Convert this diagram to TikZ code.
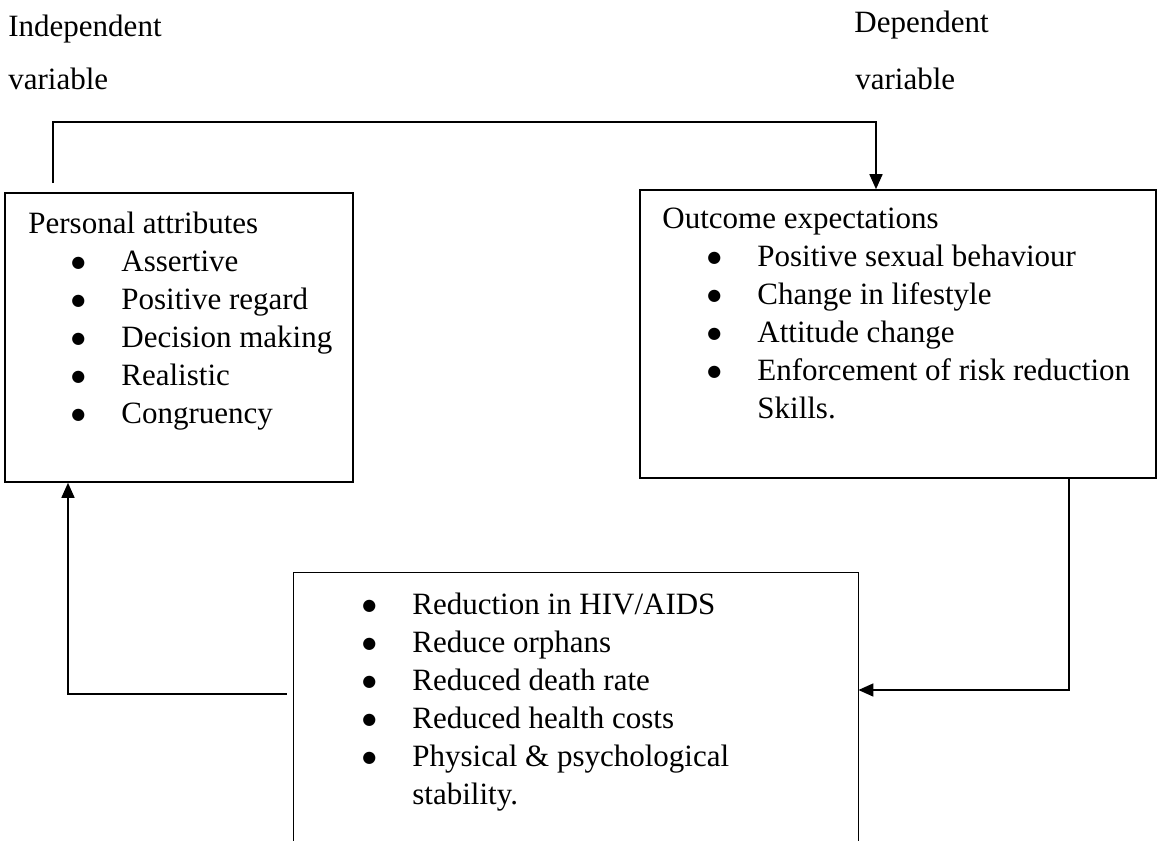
\documentclass[tikz,border=0pt]{standalone}
\usepackage{fontspec}
\setmainfont{Liberation Serif}
\newfontfamily\symfont{DejaVu Sans}
\usetikzlibrary{arrows.meta,calc}
\newcommand{\bitem}{\makebox[0pt]{\raisebox{2pt}{\symfont\fontsize{8pt}{8pt}\selectfont ●}}\hspace*{21.5pt}}
\begin{document}
\begin{tikzpicture}[x=0.5pt,y=-0.5pt,
  box/.style={draw, line width=0.8pt, rectangle, inner sep=0pt},
  conn/.style={line width=0.8pt},
  arr/.style={conn, -{Triangle[length=7.5pt,width=6.5pt]}},
  txt/.style={inner sep=0pt, anchor=base west, font=\fontsize{15.5pt}{19pt}\selectfont},
]
\useasboundingbox (0,0) rectangle (1158,841);

% boxes
\node[box, minimum width=174pt, minimum height=144.5pt] (pa) at (179,337.5) {};
\node[box, minimum width=258pt, minimum height=144pt] (oe) at (898,334) {};
\node[inner sep=0pt, minimum width=282pt, minimum height=134pt] (bt) at (576,707) {};
\draw[conn] (bt.south west) -- (bt.north west) -- (bt.north east) -- (bt.south east);

% headings
\node[txt] (indep) at (8,36) {Independent};
\node[txt] (indepv) at (8,89) {variable};
\node[txt] (dep) at (854,32) {Dependent};
\node[txt] (depv) at (855,89) {variable};

% box texts
\node[txt] (patext) at (28,233) {\begin{tabular}[t]{@{}l@{}}
Personal attributes\\
\hspace*{25pt}\bitem Assertive\\
\hspace*{25pt}\bitem Positive regard\\
\hspace*{25pt}\bitem Decision making\\
\hspace*{25pt}\bitem Realistic\\
\hspace*{25pt}\bitem Congruency
\end{tabular}};

\node[txt] (oetext) at (662,228) {\begin{tabular}[t]{@{}l@{}}
Outcome expectations\\
\hspace*{26pt}\bitem Positive sexual behaviour\\
\hspace*{26pt}\bitem Change in lifestyle\\
\hspace*{26pt}\bitem Attitude change\\
\hspace*{26pt}\bitem Enforcement of risk reduction\\
\hspace*{47.5pt}Skills.
\end{tabular}};

\node[txt] (bttext) at (369,614) {\begin{tabular}[t]{@{}l@{}}
\bitem Reduction in HIV/AIDS\\
\bitem Reduce orphans\\
\bitem Reduced death rate\\
\bitem Reduced health costs\\
\bitem Physical \& psychological\\
\hspace*{21.5pt}stability.
\end{tabular}};

% connectors
\coordinate (t1) at (53,122);
\coordinate (t2) at (876,122);
\draw[arr, shorten <=4.5pt] (pa.north -| t1) -- (t1) -- (t2) -- (oe.north -| t2);

\coordinate (r1) at (1069,690);
\draw[arr] (oe.south -| r1) -- (r1) -- (bt.east |- r1);

\coordinate (l1) at (68,694);
\draw[arr, shorten <=3.5pt] (bt.west |- l1) -- (l1) -- (pa.south -| l1);
\end{tikzpicture}
\end{document}
